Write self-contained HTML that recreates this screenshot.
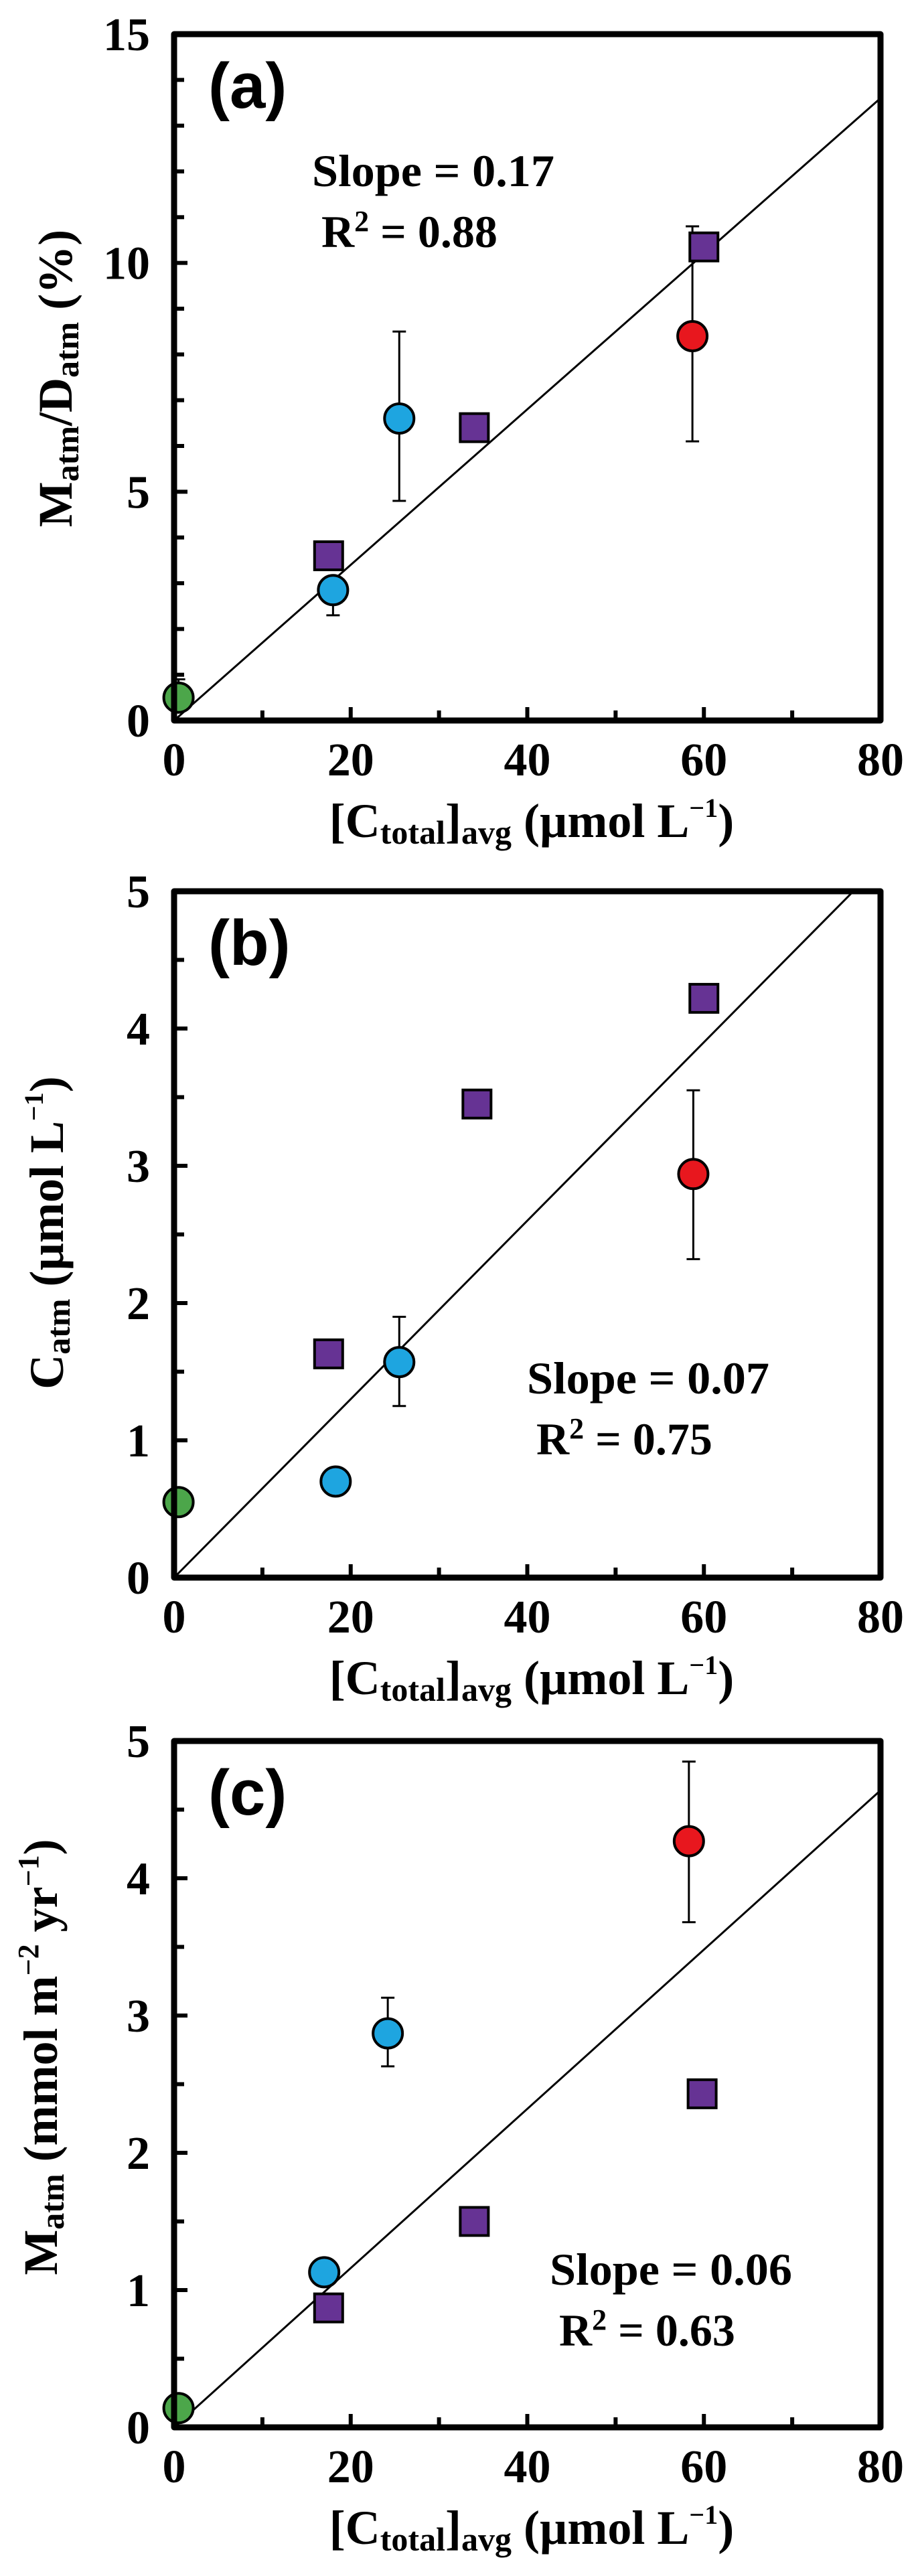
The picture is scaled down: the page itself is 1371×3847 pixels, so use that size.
<!DOCTYPE html>
<html><head><meta charset="utf-8"><style>
html,body{margin:0;padding:0;background:#fff}
svg{display:block}
text{font-family:"Liberation Serif",serif;font-weight:bold;fill:#000}
</style></head><body>
<svg id="chart" width="1371" height="3847" viewBox="0 0 1371 3847" xmlns="http://www.w3.org/2000/svg"></svg>
<script>
// Panel (a)
const aX = [0.5, 18, 25.5, 58.7, 17.5, 34, 60];
const aY = [0.5, 2.85, 6.6, 8.4, 3.6, 6.4, 10.35];
const aErrLo = [0.5, 2.3, 4.8, 6.1, null, null, null];
const aErrHi = [0.9, 2.85, 8.5, 10.8, null, null, null];
const aKind = ["green","blue","blue","red","square","square","square"];
const aSlope = 0.17;
// Panel (b)
const bX = [0.5, 18.3, 25.5, 58.8, 17.5, 34.3, 60];
const bY = [0.55, 0.7, 1.57, 2.94, 1.63, 3.45, 4.22];
const bErrLo = [null, null, 1.25, 2.32, null, null, null];
const bErrHi = [null, null, 1.9, 3.55, null, null, null];
const bKind = ["green","blue","blue","red","square","square","square"];
const bSlope = 0.065;
// Panel (c)
const cX = [0.5, 17, 24.2, 58.3, 17.5, 34, 59.8];
const cY = [0.14, 1.13, 2.87, 4.27, 0.87, 1.5, 2.43];
const cErrLo = [null, null, 2.63, 3.68, null, null, null];
const cErrHi = [null, null, 3.13, 4.85, null, null, null];
const cKind = ["green","blue","blue","red","square","square","square"];
const cSlope = 0.058;
const xTicks = [0, 20, 40, 60, 80];
const aYTicks = [0, 5, 10, 15];
const bYTicks = [0, 1, 2, 3, 4, 5];
const cYTicks = [0, 1, 2, 3, 4, 5];

const NS = "http://www.w3.org/2000/svg";
const svg = document.getElementById("chart");
function mk(tag, attrs, parent) {
  const e = document.createElementNS(NS, tag);
  for (const k in attrs) e.setAttribute(k, attrs[k]);
  (parent || svg).appendChild(e);
  return e;
}
const colors = {green:"#4ca64a", blue:"#1ea5e0", red:"#e8171e", square:"#663394"};

function panel(o) {
  const L = 260, R = 1315, T = o.top, B = o.top + 1025;
  const sx = v => L + (v / 80) * (R - L);
  const sy = v => B - (v / o.ymax) * (B - T);
  const g = mk("g", {});
  
  
  // ticks
  for (let v = 0; v <= 80; v += 10) {
    const t = mk("line", {x1: sx(v), x2: sx(v), y1: B, y2: B - (v % 20 === 0 ? 20 : 15), stroke: "#000", "stroke-width": 6}, g);
    
    
  }
  for (let v = 0; v <= o.ymax + 1e-9; v += o.minor) {
    const major = o.yticks.some(m => Math.abs(m - v) < 1e-9);
    const t = mk("line", {x1: L, x2: L + (major ? 20 : 15), y1: sy(v), y2: sy(v), stroke: "#000", "stroke-width": 6}, g);
    
    
  }
  xTicks.forEach(v => {
    const t = mk("text", {x: sx(v), y: B + 82, "font-size": 70, "text-anchor": "middle"}, g);
    t.textContent = v;
    
    
  });
  o.yticks.forEach(v => {
    const t = mk("text", {x: 224, y: sy(v) + 24, "font-size": 70, "text-anchor": "end"}, g);
    t.textContent = v;
    
    
  });
  // regression line
  let x2 = 80, y2 = o.slope * 80;
  if (y2 > o.ymax) { y2 = o.ymax; x2 = o.ymax / o.slope; }
  const ln = mk("line", {x1: sx(0), y1: sy(0), x2: sx(x2), y2: sy(y2), stroke: "#000", "stroke-width": 3}, g);
  
  
  // error bars
  o.x.forEach((xv, i) => {
    if (o.lo[i] == null) return;
    const eb = mk("g", {stroke: "#000", "stroke-width": 3}, g);
    
    
    mk("line", {x1: sx(xv), x2: sx(xv), y1: sy(o.lo[i]), y2: sy(o.hi[i])}, eb);
    mk("line", {x1: sx(xv) - 10, x2: sx(xv) + 10, y1: sy(o.lo[i]), y2: sy(o.lo[i])}, eb);
    mk("line", {x1: sx(xv) - 10, x2: sx(xv) + 10, y1: sy(o.hi[i]), y2: sy(o.hi[i])}, eb);
  });
  // points
  o.x.forEach((xv, i) => {
    const k = o.kind[i];
    let p;
    if (k === "square") {
      p = mk("rect", {x: sx(xv) - 21, y: sy(o.y[i]) - 21, width: 42, height: 42, fill: colors[k], stroke: "#000", "stroke-width": 4}, g);
    } else {
      p = mk("circle", {cx: sx(xv), cy: sy(o.y[i]), r: 22, fill: colors[k], stroke: "#000", "stroke-width": 4}, g);
    }
    
    
  });
  // box
  const box = mk("rect", {x: L, y: T, width: R - L, height: B - T, fill: "none", stroke: "#000", "stroke-width": 9, "stroke-linejoin": "round"}, g);
  
  
  // panel label
  const pl = mk("text", {x: 311, y: T + 110, "font-size": 96, style: "font-family:'Liberation Sans',sans-serif"}, g);
  pl.textContent = "(" + o.id + ")";
  
  
  // annotations
  const s = mk("text", {x: o.ax, y: o.ay, "font-size": 68, textLength: 362, lengthAdjust: "spacingAndGlyphs"}, g);
  s.textContent = "Slope = " + o.slopeText;
  
  
  const r2 = mk("text", {x: o.ax + 14, y: o.ay + 91, "font-size": 68}, g);
  r2.innerHTML = 'R<tspan font-size="44" dy="-24">2</tspan><tspan dy="24"> = ' + o.r2 + '</tspan>';
  
  
  // x title
  const xt = mk("text", {x: 794, y: B + 174, "font-size": 72, "text-anchor": "middle"}, g);
  xt.innerHTML = '[C<tspan font-size="50" dy="10">total</tspan><tspan dy="-10">]</tspan><tspan font-size="50" dy="10">avg</tspan><tspan dy="-10"> (µmol L</tspan><tspan font-size="40" dy="-30">−1</tspan><tspan dy="30">)</tspan>';
  
  
  // y title
  const yt = mk("text", {x: 0, y: 0, "font-size": 72, "text-anchor": "middle", transform: "translate(" + (o.ytx + 24) + "," + o.ytc + ") rotate(-90)"}, g);
  yt.innerHTML = o.ytitle;
  
  
}

panel({id: "a", top: 51, ymax: 15, minor: 1, yticks: aYTicks, x: aX, y: aY, lo: aErrLo, hi: aErrHi, kind: aKind, slope: aSlope,
  slopeText: "0.17", r2: "0.88", ax: 466, ay: 278, ytx: 83, ytc: 565,
  ytitle: 'M<tspan font-size="50" dy="10">atm</tspan><tspan dy="-10">/D</tspan><tspan font-size="50" dy="10">atm</tspan><tspan dy="-10"> (%)</tspan>'});
panel({id: "b", top: 1331, ymax: 5, minor: 0.5, yticks: bYTicks, x: bX, y: bY, lo: bErrLo, hi: bErrHi, kind: bKind, slope: bSlope,
  slopeText: "0.07", r2: "0.75", ax: 787, ay: 2081, ytx: 70, ytc: 1841,
  ytitle: 'C<tspan font-size="50" dy="10">atm</tspan><tspan dy="-10"> (µmol L</tspan><tspan font-size="40" dy="-30">−1</tspan><tspan dy="30">)</tspan>'});
panel({id: "c", top: 2600, ymax: 5, minor: 0.5, yticks: cYTicks, x: cX, y: cY, lo: cErrLo, hi: cErrHi, kind: cKind, slope: cSlope,
  slopeText: "0.06", r2: "0.63", ax: 821, ay: 3412, ytx: 61, ytc: 3072,
  ytitle: 'M<tspan font-size="50" dy="10">atm</tspan><tspan dy="-10"> (mmol m</tspan><tspan font-size="44" dy="-28">−2</tspan><tspan dy="28"> yr</tspan><tspan font-size="44" dy="-28">−1</tspan><tspan dy="28">)</tspan>'});
</script>
</body></html>
